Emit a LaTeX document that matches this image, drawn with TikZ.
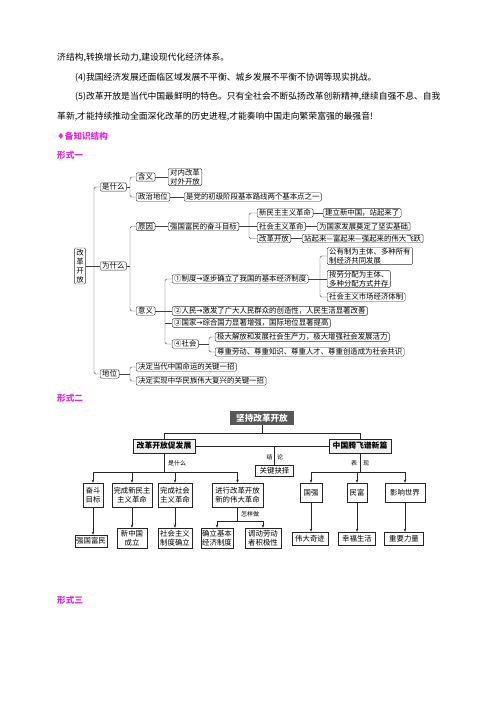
\documentclass[tikz,border=0pt]{standalone}
\usepackage{fontspec}
\setmainfont{Noto Sans CJK SC}
\newfontfamily\djv{DejaVu Sans}
\usetikzlibrary{arrows.meta}
\definecolor{mag}{RGB}{225,40,225}
\definecolor{dk}{RGB}{88,88,88}
\begin{document}
\begin{tikzpicture}[x=1pt,y=-1pt,
 body/.style={anchor=west,inner sep=0pt,font=\fontsize{8.8}{10}\selectfont,text=black},
 head/.style={anchor=west,inner sep=0pt,font=\fontsize{8.6}{10}\selectfont\bfseries,text=mag},
 bx/.style={draw=black!80,rounded corners=1.3pt,line width=0.45pt,anchor=west,inner xsep=2pt,inner ysep=0.8pt,font=\fontsize{7.4}{8.6}\selectfont,align=left},
 cn/.style={draw=black!75,line width=0.45pt,rounded corners=1.5pt},
 pb/.style={draw=black!85,line width=0.5pt,inner sep=0pt,font=\fontsize{7.4}{9}\selectfont,align=center},
 big/.style={pb,fill=gray!12,line width=0.9pt,font=\fontsize{7.8}{9}\selectfont\bfseries,minimum width=62,minimum height=14},
 ar/.style={draw=black!85,line width=0.5pt,-{Stealth[length=3.2pt,width=2.6pt]}},
 ln/.style={draw=black!85,line width=0.5pt},
 lab/.style={inner sep=0pt,font=\fontsize{6}{7}\selectfont},
]
\useasboundingbox (0,0) rectangle (500,707);
% ---------- body text ----------
\node[body] (l1) at (57,58) {济结构,转换增长动力,建设现代化经济体系。};
\node[body] (l2) at (75,78) {(4)我国经济发展还面临区域发展不平衡、城乡发展不平衡不协调等现实挑战。};
\node[body] (l3) at (75,97) {(5)改革开放是当代中国最鲜明的特色。只有全社会不断弘扬改革创新精神,继续自强不息、自我};
\node[body] (l4) at (57,117) {革新,才能持续推动全面深化改革的历史进程,才能奏响中国走向繁荣富强的最强音!};
\node[head] (h0) at (57,136) {{\djv\mdseries ♦}备知识结构};
\node[head] (h1) at (57,155) {形式一};
\node[head] (h2) at (57,398) {形式二};
\node[head] (h3) at (57,600) {形式三};
% ---------- form 1 ----------
\node[bx,align=center,anchor=center,font=\fontsize{7.4}{9.2}\selectfont] (gk) at (80,266) {改\\革\\开\\放};
\node[bx] (szm) at (100,187) {是什么};
\node[bx] (wsm) at (100,266) {为什么};
\node[bx] (dw) at (100,374) {地位};
\node[bx] (hy) at (136,177) {含义};
\node[bx] (dn) at (168,177) {对内改革\\对外开放};
\node[bx] (zz) at (136,197) {政治地位};
\node[bx] (zz2) at (184,197) {是党的初级阶段基本路线两个基本点之一};
\node[bx] (yy) at (136,226.5) {原因};
\node[bx] (yy2) at (168,226.5) {强国富民的奋斗目标};
\node[bx] (xm) at (257,213) {新民主主义革命};
\node[bx] (xm2) at (323,213) {建立新中国，站起来了};
\node[bx] (sh) at (257,226.5) {社会主义革命};
\node[bx] (sh2) at (317,226.5) {为国家发展奠定了坚实基础};
\node[bx] (gg) at (257,238.5) {改革开放};
\node[bx] (gg2) at (302,238.5) {站起来—富起来—强起来的伟大飞跃};
\node[bx] (yi) at (136,311) {意义};
\node[bx] (z1) at (172,279) {①制度{\djv →}逐步确立了我国的基本经济制度};
\node[bx] (z1a) at (327,256) {公有制为主体、多种所有\\制经济共同发展};
\node[bx] (z1b) at (327,279) {按劳分配为主体、\\多种分配方式并存};
\node[bx] (z1c) at (327,297) {社会主义市场经济体制};
\node[bx] (z2) at (172,311) {②人民{\djv →}激发了广大人民群众的创造性，人民生活显著改善};
\node[bx] (z3) at (172,323) {③国家{\djv →}综合国力显著增强，国际地位显著提高};
\node[bx] (z4) at (172,344) {④社会};
\node[bx] (z4a) at (215,337) {极大解放和发展社会生产力，极大增强社会发展活力};
\node[bx] (z4b) at (215,352) {尊重劳动、尊重知识、尊重人才、尊重创造成为社会共识};
\node[bx] (dw1) at (136,367) {决定当代中国命运的关键一招};
\node[bx] (dw2) at (136,381) {决定实现中华民族伟大复兴的关键一招};
\coordinate (f1) at (94,0);
\coordinate (f2) at (130,0);
\coordinate (f3) at (249,0);
\coordinate (f4) at (165,0);
\coordinate (f5) at (320,0);
\coordinate (f6) at (209,0);
\draw[cn] (szm.west) -- (szm.west -| f1) -- (dw.west -| f1) -- (dw.west);
\draw[cn] (gk.east) -- (wsm.west);
\draw[cn] (hy.west) -- (hy.west -| f2) -- (zz.west -| f2) -- (zz.west);
\draw[cn] (szm.east) -- (szm.east -| f2);
\draw[cn] (hy.east) -- (dn.west);
\draw[cn] (zz.east) -- (zz2.west);
\draw[cn] (yy.west) -- (yy.west -| f2) -- (yi.west -| f2) -- (yi.west);
\draw[cn] (wsm.east) -- (wsm.east -| f2);
\draw[cn] (yy.east) -- (yy2.west);
\draw[cn] (xm.west) -- (xm.west -| f3) -- (gg.west -| f3) -- (gg.west);
\draw[cn] (yy2.east) -- (sh.west);
\draw[cn] (xm.east) -- (xm2.west);
\draw[cn] (sh.east) -- (sh2.west);
\draw[cn] (gg.east) -- (gg2.west);
\draw[cn] (z1.west) -- (z1.west -| f4) -- (z4.west -| f4) -- (z4.west);
\draw[cn] (yi.east) -- (z2.west);
\draw[cn] (z3.west -| f4) -- (z3.west);
\draw[cn] (z1a.west) -- (z1a.west -| f5) -- (z1c.west -| f5) -- (z1c.west);
\draw[cn] (z1.east) -- (z1b.west);
\draw[cn] (z4a.west) -- (z4a.west -| f6) -- (z4b.west -| f6) -- (z4b.west);
\draw[cn] (z4.east) -- (z4.east -| f6);
\draw[cn] (dw1.west) -- (dw1.west -| f2) -- (dw2.west -| f2) -- (dw2.west);
\draw[cn] (dw.east) -- (dw.east -| f2);
% ---------- form 2 ----------
\node[pb,fill=dk,draw=dk,text=white,font=\fontsize{8.6}{10}\selectfont\bfseries,minimum width=63,minimum height=13] (jc) at (262,418) {坚持改革开放};
\node[big] (cf) at (164,446) {改革开放促发展};
\node[big] (tf) at (360,446) {中国腾飞谱新篇};
\node[pb,minimum width=38,minimum height=11] (gj) at (274.5,470.5) {关键抉择};
\coordinate (t1) at (0,433);
\coordinate (b1) at (0,472);
\coordinate (b2) at (0,521);
\draw[ln] (jc.south) -- (jc.south |- t1);
\draw[ln] (cf.north) -- (cf.north |- t1) -- (tf.north |- t1) -- (tf.north);
\draw[ln] (cf.east) -- (tf.west);
\draw[ln] (gj.north |- cf.east) -- (gj.north);
\node[lab] (jl1) at (269.5,457) {结};
\node[lab] (jl2) at (280,457) {论};
% left
\node[pb,minimum width=20,minimum height=24] (fd) at (93,495) {奋斗\\目标};
\node[pb,minimum width=40,minimum height=24] (wx) at (132,495) {完成新民主\\主义革命};
\node[pb,minimum width=34,minimum height=24] (ws) at (175,495) {完成社会\\主义革命};
\node[pb,minimum width=51,minimum height=24] (jx) at (237.5,495) {进行改革开放\\新的伟大革命};
\node[lab] (ssm) at (177,463) {是什么};
\draw[ln] (cf.south) -- (cf.south |- b1);
\draw[ln] (fd.north |- b1) -- (jx.north |- b1);
\draw[ar] (fd.north |- b1) -- (fd.north);
\draw[ar] (wx.north |- b1) -- (wx.north);
\draw[ar] (ws.north |- b1) -- (ws.north);
\draw[ar] (jx.north |- b1) -- (jx.north);
\node[pb,minimum width=32,minimum height=12] (qg) at (91,541) {强国富民};
\node[pb,minimum width=30,minimum height=20] (xz) at (132,538) {新中国\\成立};
\node[pb,minimum width=34,minimum height=20] (sz) at (175,538) {社会主义\\制度确立};
\node[pb,minimum width=32,minimum height=20] (ql) at (217,538) {确立基本\\经济制度};
\node[pb,minimum width=36,minimum height=20] (dd) at (263,538) {调动劳动\\者积极性};
\draw[ar] (fd.south) -- (fd.south |- qg.north);
\draw[ar] (wx.south) -- (xz.north);
\draw[ar] (ws.south) -- (sz.north);
\draw[ln] (jx.south) -- (jx.south |- b2);
\draw[ln] (ql.north |- b2) -- (dd.north |- b2);
\draw[ar] (ql.north |- b2) -- (ql.north);
\draw[ar] (dd.north |- b2) -- (dd.north);
\node[lab] (zyz) at (250,514.5) {怎样做};
% right
\node[pb,minimum width=22,minimum height=19] (gq) at (311,492.5) {国强};
\node[pb,minimum width=20,minimum height=19] (mf) at (357,492.5) {民富};
\node[pb,minimum width=40,minimum height=19] (yx) at (405,492.5) {影响世界};
\node[lab] (bx1) at (354,463) {表};
\node[lab] (bx2) at (366,463) {现};
\draw[ln] (tf.south) -- (tf.south |- b1);
\draw[ln] (gq.north |- b1) -- (yx.north |- b1);
\draw[ar] (gq.north |- b1) -- (gq.north);
\draw[ar] (mf.north |- b1) -- (mf.north);
\draw[ar] (yx.north |- b1) -- (yx.north);
\node[pb,minimum width=36,minimum height=13] (wd) at (310,538.5) {伟大奇迹};
\node[pb,minimum width=37,minimum height=13] (xf) at (357,538.5) {幸福生活};
\node[pb,minimum width=39,minimum height=13] (zy) at (404,538.5) {重要力量};
\draw[ar] (gq.south) -- (gq.south |- wd.north);
\draw[ar] (mf.south) -- (xf.north);
\draw[ar] (yx.south) -- (yx.south |- zy.north);
\end{tikzpicture}
\end{document}
